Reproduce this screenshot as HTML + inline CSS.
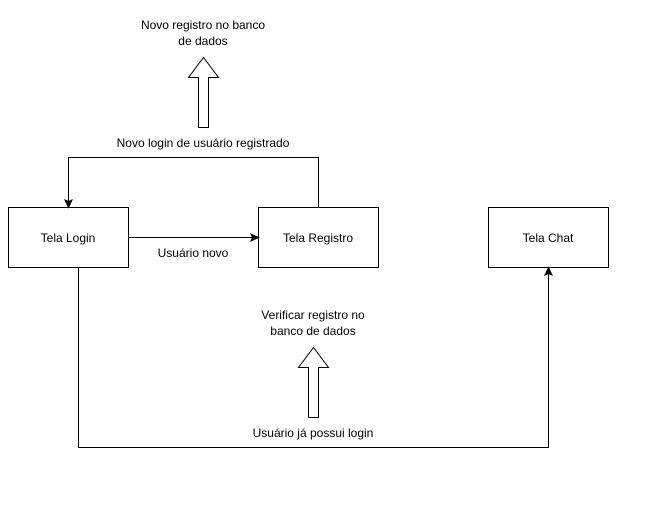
<!DOCTYPE html>
<html><head><meta charset="utf-8"><style>
html,body{margin:0;padding:0;background:#fff;}
</style></head><body>
<svg width="654" height="502" viewBox="0 0 654 502" xmlns="http://www.w3.org/2000/svg" font-family="Liberation Sans, sans-serif" font-size="12" fill="#000">
<rect x="0" y="0" width="654" height="502" fill="#fff"/>
<g fill="#fff" stroke="#000" stroke-width="1">
<rect x="8.5" y="207.5" width="120" height="60"/>
<rect x="258.5" y="207.5" width="120" height="60"/>
<rect x="488.5" y="207.5" width="120" height="60"/>
</g>
<g fill="none" stroke="#000" stroke-width="1">
<path d="M128.5 237.5 H252"/>
<path d="M318.5 207.5 V157.5 H68.5 V201"/>
<path d="M78.5 267.5 V447.5 H548.5 V274"/>
</g>
<g fill="#000" stroke="#000">
<path d="M258.5 237.5 L251 234 L252.5 237.5 L251 241 Z"/>
<path d="M68.5 207.5 L65 200 L68.5 201.5 L72 200 Z"/>
<path d="M548.5 267.5 L545 275 L548.5 273.5 L552 275 Z"/>
</g>
<g fill="#fff" stroke="#000" stroke-width="1">
<path d="M198.5 127.5 V77.5 H188.5 L203.5 57.5 L218.5 77.5 H208.5 V127.5 Z"/>
<path d="M308.5 417.5 V367.5 H298.5 L313.5 347.5 L328.5 367.5 H318.5 V417.5 Z"/>
</g>
<g text-anchor="middle">
<text x="68" y="242">Tela Login</text>
<text x="318" y="242">Tela Registro</text>
<text x="548" y="242">Tela Chat</text>
<text x="193" y="257">Usuário novo</text>
<text x="203" y="147">Novo login de usuário registrado</text>
<text x="203" y="29">Novo registro no banco</text>
<text x="203" y="45">de dados</text>
<text x="313" y="319">Verificar registro no</text>
<text x="313" y="335">banco de dados</text>
<text x="313" y="437">Usuário já possui login</text>
</g>
</svg>
</body></html>
